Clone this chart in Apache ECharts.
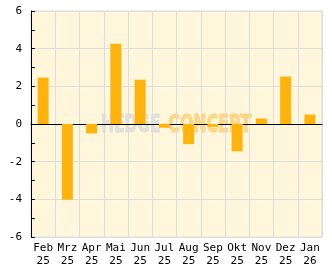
<!DOCTYPE html>
<html>
<head>
<meta charset="utf-8">
<script src="https://cdn.jsdelivr.net/npm/echarts@6/dist/echarts.min.js"></script>
<style>html,body{margin:0;padding:0;background:#fff;}#c{width:332px;height:269px;}</style>
</head>
<body>
<div id="c"></div>
<script>
var categories = ['Feb\n25','Mrz\n25','Apr\n25','Mai\n25','Jun\n25','Jul\n25','Aug\n25','Sep\n25','Okt\n25','Nov\n25','Dez\n25','Jan\n26'];
var values = [2.46, -4.02, -0.5, 4.26, 2.35, -0.2, -1.07, -0.15, -1.45, 0.29, 2.52, 0.5];
var yTicks = [-6, -4, -2, 0, 2, 4, 6];

var wmFont = 'bold 25px "DejaVu Sans Condensed"';
function fitScale(text, target) {
  var ctx = document.createElement('canvas').getContext('2d');
  ctx.font = wmFont;
  return target / ctx.measureText(text).width;
}

var chart = echarts.init(document.getElementById('c'));
var font = 'DejaVu Sans Mono';
chart.setOption({
  animation: false,
  grid: {left: 31, right: 10, top: 11, bottom: 32, show: true, backgroundColor: '#fff6dc', borderColor: '#dddddd', borderWidth: 1},
  xAxis: {
    type: 'category', data: categories, boundaryGap: true,
    axisLine: {lineStyle: {color: '#000', width: 1}},
    axisTick: {inside: true, length: 5, lineStyle: {color: '#000'}},
    splitLine: {show: true, lineStyle: {color: '#dddddd', width: 1}},
    axisLabel: {color: '#000', fontFamily: font, fontSize: 11, lineHeight: 13, margin: 5, interval: 0}
  },
  yAxis: {
    type: 'value', min: yTicks[0], max: yTicks[yTicks.length-1], interval: 2,
    axisLine: {show: true, lineStyle: {color: '#000', width: 1}},
    axisTick: {show: true, inside: true, length: 4, lineStyle: {color: '#000'}},
    minorTick: {show: true, splitNumber: 2, length: 4, lineStyle: {color: '#000'}},
    splitLine: {show: true, lineStyle: {color: '#dddddd', width: 1}},
    axisLabel: {color: '#000', fontFamily: font, fontSize: 11, margin: 9}
  },
  series: [{
    type: 'bar', data: values, barWidth: 11,
    itemStyle: {color: '#ffb30f'}
  }],
  graphic: [{
    type: 'group', left: 101, top: 112, z: 100,
    children: [
      {type: 'text', x: 0, y: 0, scaleX: fitScale('HEDGE', 59), style: {text: 'HEDGE', font: wmFont, fill: 'rgba(224,222,216,0.92)', stroke: 'rgba(224,222,216,0.92)', lineWidth: 1}},
      {type: 'text', x: 59, y: 0, scaleX: fitScale('-', 9), style: {text: '-', font: wmFont, fill: 'rgba(252,200,100,0.75)'}},
      {type: 'text', x: 67, y: 0, scaleX: fitScale('CONCEPT', 83), style: {text: 'CONCEPT', font: wmFont, fill: 'rgba(253,208,115,0.78)', stroke: 'rgba(253,208,115,0.78)', lineWidth: 1}}
    ]
  }]
});
</script>
</body>
</html>
